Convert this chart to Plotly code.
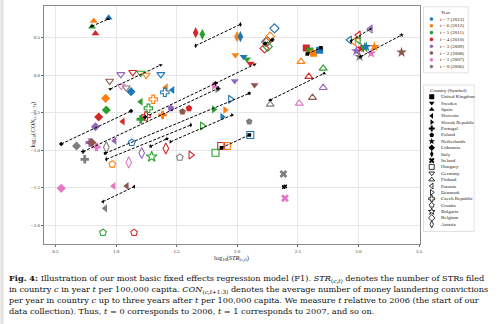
import plotly.graph_objects as go

# ---------------------------------------------------------------------------
# Observations per country, indexed by t = 0 .. 7 (2006 .. 2013).
# x = log10(STR per 100,000 capita), y = log10(CON per 100,000 capita)
# ---------------------------------------------------------------------------
T_VALUES = [0, 1, 2, 3, 4, 5, 6, 7]
YEARS = [2006, 2007, 2008, 2009, 2010, 2011, 2012, 2013]

uk_x = [None, None, None, None, 2.57, 2.60, 2.63, 2.68]
uk_y = [None, None, None, None, 0.36, 0.32, 0.29, 0.33]
uk_fit_x = [2.578, 2.69]
uk_fit_y = [0.28, 0.364]

sweden_x = [None, None, 2.143, 1.979, 2.108, 2.08, 1.985, 2.053]
sweden_y = [None, None, -0.134, -0.08, 0.155, 0.209, 0.266, 0.244]
sweden_fit_x = [1.821, 2.143]
sweden_fit_y = [-0.111, 0.142]

spain_x = [None, None, None, None, 0.83, 0.802, 0.816, 0.939]
spain_y = [None, None, None, None, 0.555, 0.644, 0.72, 0.764]
spain_fit_x = [0.80, 0.935]
spain_fit_y = [0.65, 0.745]

slovenia_x = [0.911, 0.98, 1.089, 0.988, 1.056, 1.204, 1.412, 1.466]
slovenia_y = [-1.778, -1.48, -1.48, -0.876, -0.62, -0.356, -0.164, -0.2]
slovenia_fit_x = [0.892, 1.149]
slovenia_fit_y = [-1.689, -1.489]

slovak_x = [1.835, 1.808, None, None, None, 1.807, 1.90, 1.876]
slovak_y = [-0.19, -0.147, None, None, None, -0.458, -0.467, -0.556]
slovak_fit_x = [1.45, 1.958]
slovak_fit_y = [-0.89, -0.533]

portugal_x = [0.742, 0.838, None, 0.783, None, 1.204, 1.384, None]
portugal_y = [-1.124, -0.96, None, -0.90, None, -0.59, -0.533, None]
portugal_fit_x = [0.728, 1.843]
portugal_fit_y = [-1.022, -0.178]

poland_x = [2.099, None, 1.548, 1.453, 1.602, None, None, None]
poland_y = [-0.622, None, -0.489, -0.444, -0.444, None, None, None]
poland_fit_x = None
poland_fit_y = None

netherlands_x = [3.009, 3.105, 3.356, 2.982, 3.023, 3.05, 3.132, 3.064]
netherlands_y = [0.244, 0.289, 0.302, 0.32, 0.356, 0.364, 0.378, 0.378]
netherlands_fit_x = [3.017, 3.356]
netherlands_fit_y = [0.244, 0.533]

lithuania_x = [0.674, 0.548, 0.80, 0.83, 0.857, 0.92, 0.914, 1.124]
lithuania_y = [-0.947, -1.511, -0.90, -0.69, -0.56, -0.467, -0.311, -0.222]
lithuania_fit_x = [0.548, 1.124]
lithuania_fit_y = [-0.92, -0.48]

italy_x = [None, None, None, None, 1.657, 1.712, 1.998, 2.026]
italy_y = [None, None, None, None, 0.564, 0.542, 0.511, 0.511]
italy_fit_x = [1.657, 2.026]
italy_fit_y = [0.391, 0.675]

ireland_x = [2.381, 2.394, None, None, None, None, None, None]
ireland_y = [-1.32, -1.644, None, None, None, None, None, None]
ireland_fit_x = [2.383, 2.396]
ireland_fit_y = [-1.495, -1.485]

hungary_x = [None, None, None, None, 1.868, 1.821, 1.914, 2.108]
hungary_y = [None, None, None, None, -0.947, -1.036, -0.947, -0.80]
hungary_fit_x = [1.87, 2.10]
hungary_fit_y = [-0.97, -0.80]

germany_x = [1.084, 1.043, 0.947, 1.04, 1.138, 1.204, 1.248, 1.37]
germany_y = [-0.169, -0.147, -0.08, 0.009, 0.036, 0.027, 0.0, 0.009]
germany_fit_x = [0.952, 1.368]
germany_fit_y = [-0.187, 0.133]

finland_x = [2.272, 2.512, 2.621, 2.709, 2.591, 2.709, 2.526, None]
finland_y = [-0.391, -0.378, -0.302, -0.169, -0.022, 0.089, 0.178, None]
finland_fit_x = [2.272, 2.717]
finland_fit_y = [-0.334, 0.022]

estonia_x = [None, None, None, 3.099, 3.0, 3.0, 2.963, 2.927]
estonia_y = [None, None, None, 0.613, 0.533, 0.467, 0.444, 0.467]
estonia_fit_x = [2.94, 3.10]
estonia_fit_y = [0.455, 0.615]

denmark_x = [None, None, None, None, 1.617, 1.712, None, 1.944]
denmark_y = [None, None, None, None, -1.067, -0.68, None, -0.324]
denmark_fit_x = None
denmark_fit_y = None

czech_x = [None, None, None, None, 1.248, 1.267, 1.307, 1.403]
czech_y = [None, None, None, None, -0.547, -0.444, -0.324, -0.231]
czech_fit_x = [1.24, 1.821]
czech_fit_y = [-0.56, -0.111]

croatia_x = [1.526, None, None, None, 1.149, 0.892, 0.969, 1.13]
croatia_y = [-1.098, None, None, None, -2.102, -2.102, -1.19, -0.902]
croatia_fit_x = [0.911, 2.099]
croatia_fit_y = [-1.044, -0.245]

bulgaria_x = [None, None, None, None, None, 1.294, None, None]
bulgaria_y = [None, None, None, None, None, -1.089, None, None]
bulgaria_fit_x = [1.286, 1.42]
bulgaria_fit_y = [-0.95, -0.85]

belgium_x = [2.236, None, 2.25, None, 2.225, 2.252, 2.272, 2.307]
belgium_y = [0.44, None, 0.45, None, 0.355, 0.378, 0.511, 0.622]
belgium_fit_x = [2.23, 2.29]
belgium_fit_y = [0.42, 0.47]

austria_x = [0.92, 1.105, None, 1.212, 1.411, None, None, None]
austria_y = [-0.964, -1.165, None, -1.04, -0.98, None, None, None]
austria_fit_x = [0.92, 1.617]
austria_fit_y = [-1.124, -0.667]

COUNTRIES = ["United Kingdom", "Sweden", "Spain", "Slovenia", "Slovak Republic",
             "Portugal", "Poland", "Netherlands", "Lithuania", "Italy", "Ireland",
             "Hungary", "Germany", "Finland", "Estonia", "Denmark", "Czech Republic",
             "Croatia", "Bulgaria", "Belgium", "Austria"]

X_TICKS = [0.5, 1.0, 1.5, 2.0, 2.5, 3.0, 3.5]
Y_TICKS = [0.5, 0.0, -0.5, -1.0, -1.5, -2.0]

# ---------------------------------------------------------------------------
# Styling
# ---------------------------------------------------------------------------
SYMBOLS = ["square", "triangle-down", "triangle-up", "triangle-left", "triangle-right",
           "cross", "pentagon", "star", "diamond", "diamond-tall", "x",
           "square-open", "triangle-down-open", "triangle-up-open", "triangle-left-open",
           "triangle-right-open", "cross-open", "pentagon-open", "star-open",
           "diamond-open", "diamond-tall-open"]
YEAR_COLORS = ["#7f7f7f", "#e377c2", "#8c564b", "#9467bd",
               "#d62728", "#2ca02c", "#ff7f0e", "#1f77b4"]

series = {
    "United Kingdom": (uk_x, uk_y, uk_fit_x, uk_fit_y),
    "Sweden": (sweden_x, sweden_y, sweden_fit_x, sweden_fit_y),
    "Spain": (spain_x, spain_y, spain_fit_x, spain_fit_y),
    "Slovenia": (slovenia_x, slovenia_y, slovenia_fit_x, slovenia_fit_y),
    "Slovak Republic": (slovak_x, slovak_y, slovak_fit_x, slovak_fit_y),
    "Portugal": (portugal_x, portugal_y, portugal_fit_x, portugal_fit_y),
    "Poland": (poland_x, poland_y, poland_fit_x, poland_fit_y),
    "Netherlands": (netherlands_x, netherlands_y, netherlands_fit_x, netherlands_fit_y),
    "Lithuania": (lithuania_x, lithuania_y, lithuania_fit_x, lithuania_fit_y),
    "Italy": (italy_x, italy_y, italy_fit_x, italy_fit_y),
    "Ireland": (ireland_x, ireland_y, ireland_fit_x, ireland_fit_y),
    "Hungary": (hungary_x, hungary_y, hungary_fit_x, hungary_fit_y),
    "Germany": (germany_x, germany_y, germany_fit_x, germany_fit_y),
    "Finland": (finland_x, finland_y, finland_fit_x, finland_fit_y),
    "Estonia": (estonia_x, estonia_y, estonia_fit_x, estonia_fit_y),
    "Denmark": (denmark_x, denmark_y, denmark_fit_x, denmark_fit_y),
    "Czech Republic": (czech_x, czech_y, czech_fit_x, czech_fit_y),
    "Croatia": (croatia_x, croatia_y, croatia_fit_x, croatia_fit_y),
    "Bulgaria": (bulgaria_x, bulgaria_y, bulgaria_fit_x, bulgaria_fit_y),
    "Belgium": (belgium_x, belgium_y, belgium_fit_x, belgium_fit_y),
    "Austria": (austria_x, austria_y, austria_fit_x, austria_fit_y),
}

W, H = 500, 324
ML, MR, MT, MB = 44, 0, 6, 80
PLOT_RIGHT = 422
PAPER_W = W - ML - MR
PAPER_H = H - MT - MB


def px_x(px):
    return (px - ML) / PAPER_W


def px_y(py):
    return (H - MB - py) / PAPER_H


SERIF = "Liberation Serif, Times New Roman, serif"
CAPTION_FONT = "DejaVu Serif, serif"
SMALL = 5

fig = go.Figure()

# scatter points, coloured by year, one symbol per country
for name, sym in zip(COUNTRIES, SYMBOLS):
    xs, ys, fx, fy = series[name]
    is_open = sym.endswith("-open")
    size = 7
    if "star" in sym or "diamond-tall" in sym:
        size = 8
    fig.add_trace(go.Scatter(
        x=xs, y=ys, mode="markers", name=name, showlegend=False,
        marker=dict(symbol=sym, size=size, color=YEAR_COLORS,
                    line=dict(width=1.1 if is_open else 0)),
        hoverinfo="skip",
    ))

# per-country fitted lines with black end markers
for name, sym in zip(COUNTRIES, SYMBOLS):
    xs, ys, fx, fy = series[name]
    if fx is None:
        continue
    fig.add_trace(go.Scatter(
        x=fx, y=fy, mode="lines+markers", showlegend=False,
        line=dict(color="black", width=1.0, dash="3px,1.6px"),
        marker=dict(symbol=sym.replace("-open", ""), size=3.6, color="black"),
        hoverinfo="skip",
    ))

# ---------------------------------------------------------------------------
# legends drawn on an auxiliary pixel-scaled axis in the right margin
# ---------------------------------------------------------------------------
LEG_X0 = 424
year_rows = list(reversed(T_VALUES))
year_entry_y = [19 + i * 6.8 for i in range(len(year_rows))]
fig.add_trace(go.Scatter(
    x=[434] * len(year_rows), y=year_entry_y, xaxis="x2", yaxis="y2",
    mode="markers", showlegend=False, hoverinfo="skip",
    marker=dict(symbol="circle", size=3.6, color=[YEAR_COLORS[t] for t in year_rows]),
))
country_entry_y = [96.7 + i * 6.38 for i in range(len(COUNTRIES))]
for yy, sym in zip(country_entry_y, SYMBOLS):
    fig.add_trace(go.Scatter(
        x=[434.3], y=[yy], xaxis="x2", yaxis="y2", mode="markers",
        showlegend=False, hoverinfo="skip",
        marker=dict(symbol=sym, size=5, color="black",
                    line=dict(width=0.8 if sym.endswith("-open") else 0)),
    ))

annotations = []
annotations.append(dict(x=448.5, y=12.3, xref="x2", yref="y2", text="Year",
                        showarrow=False, font=dict(size=SMALL, family=SERIF, color="#222")))
for yy, t in zip(year_entry_y, year_rows):
    annotations.append(dict(
        x=440.2, y=yy, xref="x2", yref="y2", xanchor="left", yanchor="middle",
        text=f"<i>t</i> = {t} ({YEARS[t]})", showarrow=False,
        font=dict(size=SMALL, family=SERIF, color="#222")))
annotations.append(dict(x=451.5, y=90, xref="x2", yref="y2", text="Country (Symbol)",
                        showarrow=False, font=dict(size=SMALL, family=SERIF, color="#222")))
for yy, name in zip(country_entry_y, COUNTRIES):
    annotations.append(dict(
        x=441.2, y=yy, xref="x2", yref="y2", xanchor="left", yanchor="middle",
        text=name, showarrow=False, font=dict(size=SMALL, family=SERIF, color="#222")))

# axis titles
annotations.append(dict(
    x=px_x((ML + PLOT_RIGHT) / 2), y=px_y(265), xref="paper", yref="paper",
    text="log<sub>10</sub>(<i>STR</i><sub>(<i>c</i>,<i>t</i>)</sub>)", showarrow=False,
    font=dict(size=6.4, family=SERIF, color="#222")))
annotations.append(dict(
    x=px_x(26), y=px_y(125), xref="paper", yref="paper", textangle=-90,
    text="log<sub>10</sub>(<i>CON</i><sub>(<i>c</i>,<i>t</i>+1:3)</sub>)", showarrow=False,
    font=dict(size=6.4, family=SERIF, color="#222")))

# caption
CAPTION = [
    "<b>Fig. 4:</b> Illustration of our most basic fixed effects regression model (F1). "
    "<i>STR</i><sub>(<i>c</i>,<i>t</i>)</sub> denotes the number of STRs filed",
    "in country <i>c</i> in year <i>t</i> per 100,000 capita. "
    "<i>CON</i><sub>(<i>c</i>,<i>t</i>+1:3)</sub> denotes the average number of money laundering convictions",
    "per year in country <i>c</i> up to three years after <i>t</i> per 100,000 capita. "
    "We measure <i>t</i> relative to 2006 (the start of our",
    "data collection). Thus, <i>t</i> = 0 corresponds to 2006, <i>t</i> = 1 corresponds to 2007, and so on.",
]
for i, line in enumerate(CAPTION):
    annotations.append(dict(
        x=px_x(7), y=px_y(278.7 + i * 10.67), xref="paper", yref="paper",
        xanchor="left", yanchor="middle", text=line, showarrow=False,
        font=dict(size=8.2, family=CAPTION_FONT, color="#111")))

shapes = [
    # year legend frame
    dict(type="rect", xref="x2", yref="y2", x0=426, x1=471, y0=6.8, y1=72.8,
         line=dict(color="#d9d9d9", width=0.8), fillcolor="white", layer="below"),
    # country legend frame
    dict(type="rect", xref="x2", yref="y2", x0=426, x1=477, y0=85, y1=231.5,
         line=dict(color="#d9d9d9", width=0.8), fillcolor="white", layer="below"),
    # page edge strip
    dict(type="rect", xref="paper", yref="paper", x0=px_x(0), x1=px_x(3.5),
         y0=px_y(H), y1=px_y(0), line=dict(width=0), fillcolor="#e4e4e4"),
]

axis_common = dict(
    showgrid=True, gridcolor="#e6e6e6", gridwidth=0.6, zeroline=False,
    showline=True, linecolor="#8a8a8a", linewidth=1.2, mirror=True,
    ticks="outside", ticklen=2, tickwidth=0.6, tickcolor="#666",
    tickfont=dict(size=SMALL, family=SERIF, color="#333"),
)
hidden_axis = dict(showticklabels=False, showgrid=False, zeroline=False,
                   showline=False, ticks="", tickmode="array", tickvals=[],
                   fixedrange=True)

fig.update_layout(
    width=W, height=H,
    margin=dict(l=ML, r=MR, t=MT, b=MB, pad=0),
    paper_bgcolor="white", plot_bgcolor="white",
    showlegend=False,
    xaxis=dict(domain=[0, px_x(PLOT_RIGHT)], range=[0.4057, 3.504],
               tickvals=X_TICKS, ticktext=[f"{v:.1f}" for v in X_TICKS], **axis_common),
    yaxis=dict(range=[-2.2533, 0.92], tickvals=Y_TICKS,
               ticktext=[f"{v:.1f}".replace("-", "\u2212") for v in Y_TICKS], **axis_common),
    xaxis2=dict(domain=[px_x(LEG_X0), 1], range=[LEG_X0, W], anchor="y2", **hidden_axis),
    yaxis2=dict(domain=[0, 1], range=[H - MB, MT], anchor="x2", **hidden_axis),
    annotations=annotations,
    shapes=shapes,
)

fig.write_html("out.html", config={"displayModeBar": False})
